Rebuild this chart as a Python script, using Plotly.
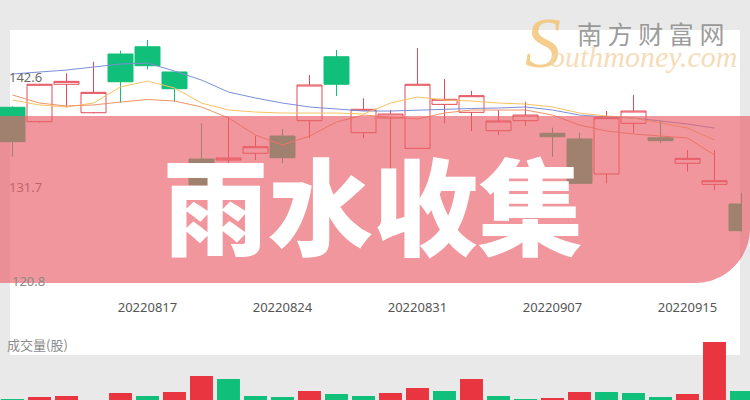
import plotly.graph_objects as go

# ---------------- data ----------------
dates = ["20220810", "20220811", "20220812", "20220815", "20220816", "20220817",
         "20220818", "20220819", "20220822", "20220823", "20220824", "20220825",
         "20220826", "20220829", "20220830", "20220831", "20220901", "20220902",
         "20220905", "20220906", "20220907", "20220908", "20220909", "20220913",
         "20220914", "20220915", "20220916", "20220919"]

open_ = [139.60, 138.17, 141.88, 139.06, 144.88, 145.60, 143.10, 134.47, 134.37, 135.04,
         136.75, 138.27, 144.61, 137.08, 138.54, 135.53, 139.89, 139.10, 137.28, 138.27,
         137.02, 136.46, 132.99, 138.01, 136.58, 134.05, 131.96, 130.01]
high = [139.70, 141.90, 142.97, 144.12, 145.21, 146.27, 143.10, 138.01, 138.64, 136.75,
        137.45, 142.80, 145.28, 140.49, 139.33, 145.47, 142.40, 141.24, 139.33, 140.15,
        137.58, 137.08, 139.23, 140.82, 138.27, 135.37, 135.37, 131.13]
low = [134.70, 138.10, 139.60, 139.00, 140.05, 143.36, 140.15, 130.41, 133.09, 134.37,
       134.05, 136.53, 140.72, 136.53, 130.41, 135.50, 138.01, 137.25, 136.85, 137.74,
       134.70, 132.00, 132.06, 137.02, 136.03, 133.22, 131.40, 127.30]
close = [136.19, 141.88, 142.17, 141.08, 142.13, 143.72, 141.44, 131.90, 134.57, 135.69,
         134.60, 141.81, 141.88, 139.40, 138.93, 141.88, 140.39, 140.75, 138.24, 138.83,
         136.68, 132.06, 138.57, 139.23, 136.29, 134.54, 132.32, 127.37]

ma_short = [140.82, 140.02, 139.73, 139.83, 140.12, 140.37, 140.22, 139.63, 138.54, 136.85,
            135.86, 136.75, 138.14, 138.83, 138.64, 138.44, 139.03, 139.33, 139.33, 139.33,
            138.83, 137.84, 137.25, 136.95, 136.75, 136.56, 134.87, None]
ma_mid = [140.32, 139.83, 139.63, 140.02, 141.61, 142.20, 141.51, 140.02, 139.33, 139.13,
          139.03, 139.03, 139.03, 138.93, 140.02, 140.62, 140.32, 140.22, 140.02, 139.92,
          139.63, 139.03, 138.74, 138.54, 138.04, 137.55, 136.36, None]
ma_long = [142.90, 143.10, 143.29, 143.59, 143.89, 143.99, 143.19, 142.30, 141.11, 140.52,
           140.02, 139.63, 139.43, 139.23, 139.23, 139.33, 139.43, 139.48, 139.53, 139.63,
           139.33, 138.83, 138.64, 138.54, 138.24, 137.94, 137.54, None]

volume = [31, 33, 34, 28, 37, 34, 38, 54, 51, 34, 33, 39, 36, 34, 37, 42, 39, 51, 34, 31,
          32, 38, 38, 37, 33, 36, 88, 39]  # 万股
vol_dir = ["down", "up", "up", "up", "up", "down", "up", "up", "down", "down", "down", "up",
           "down", "down", "up", "up", "down", "up", "down", "down", "up", "up", "down",
           "down", "down", "up", "up", "down"]

y_tick_vals = [142.6, 131.7]
y_low_label = "120.8"
x_tick_dates = ["20220817", "20220824", "20220831", "20220907", "20220915"]

# ---------------- style ----------------
RED = "#e8353f"
GREEN = "#10bf79"
W, H = 750, 400


def px(x):
    return x / W


def py(y):
    return 1 - y / H


fig = go.Figure()

for vals, col in [(ma_long, "#7b8fd6"), (ma_mid, "#f7c262"), (ma_short, "#ef9466")]:
    fig.add_trace(go.Scatter(x=dates, y=vals, mode="lines", line=dict(color=col, width=1),
                             xaxis="x", yaxis="y", hoverinfo="skip", connectgaps=False))

fig.add_trace(go.Candlestick(
    x=dates, open=open_, high=high, low=low, close=close,
    increasing=dict(line=dict(color="#e44a55", width=1), fillcolor="#ffffff"),
    decreasing=dict(line=dict(color=GREEN, width=1), fillcolor=GREEN),
    whiskerwidth=0, xaxis="x", yaxis="y"))

fig.add_trace(go.Bar(
    x=dates, y=volume, width=0.85,
    marker=dict(color=[RED if d == "up" else GREEN for d in vol_dir], line=dict(width=0)),
    xaxis="x2", yaxis="y2"))

axis_font = dict(family="Noto Sans, Open Sans, sans-serif", size=13, color="#6a6a6a")

fig.update_layout(
    width=W, height=H, margin=dict(l=0, r=0, t=0, b=0),
    paper_bgcolor="#e9e9e9", plot_bgcolor="rgba(0,0,0,0)",
    showlegend=False, hovermode=False,
    boxgap=0.074, boxgroupgap=0,
    xaxis=dict(domain=[0, 742 / W], range=[-0.463, 27.0185], type="category",
               tickvals=x_tick_dates, ticktext=x_tick_dates, ticks="", showgrid=False,
               zeroline=False, showline=False, tickfont=dict(axis_font, color="#555555"),
               anchor="y", rangeslider=dict(visible=False), ticklabelstandoff=8),
    yaxis=dict(domain=[py(290), py(30)], range=[121.49, 147.26],
               tickvals=y_tick_vals, ticktext=[f"{v:.1f}" for v in y_tick_vals],
               ticklabelposition="inside", ticks="", showgrid=False, zeroline=False,
               showline=False, tickfont=axis_font, anchor="x", ticklabelstandoff=6),
    xaxis2=dict(domain=[0, 1], range=[-0.463, 27.315], type="category",
                showticklabels=False, ticks="", showgrid=False, zeroline=False,
                showline=False, anchor="y2"),
    yaxis2=dict(domain=[0, 0.2], range=[30, 110], showticklabels=False, ticks="",
                showgrid=False, zeroline=False, showline=False, anchor="x2"),
)

# white panel
fig.add_shape(type="rect", xref="paper", yref="paper", x0=px(10), x1=px(740),
              y0=py(355), y1=py(30), fillcolor="#ffffff", line=dict(width=0), layer="below")

# translucent banner with rounded lower-right corner
r = 55
path = (f"M {px(0)},{py(116)} L {px(750)},{py(116)} L {px(750)},{py(283 - r)} "
        f"C {px(750)},{py(283 - r + 0.552 * r)} {px(750 - r + 0.552 * r)},{py(283)} "
        f"{px(750 - r)},{py(283)} L {px(0)},{py(283)} Z")
fig.add_shape(type="path", xref="paper", yref="paper", path=path,
              fillcolor="rgb(232,97,106)", opacity=0.665, line=dict(width=0), layer="above")

# texts
fig.add_annotation(text="雨水收集", x=px(373), y=py(201), xref="paper", yref="paper",
                   showarrow=False, xanchor="center", yanchor="middle",
                   font=dict(family="Noto Sans CJK SC", size=105, color="#ffffff", weight=900))
fig.add_annotation(text=y_low_label, x=px(10), y=py(281), xref="paper", yref="paper",
                   showarrow=False, xanchor="left", yanchor="middle",
                   font=dict(axis_font, color="#8a8a8a"))
fig.add_annotation(text="成交量(股)", x=px(5), y=py(344), xref="paper", yref="paper",
                   showarrow=False, xanchor="left", yanchor="middle",
                   font=dict(family="Noto Sans CJK SC", size=13, color="#8a8a8a"))

# watermark
fig.add_annotation(text="<i>S</i>", x=px(543), y=py(43), xref="paper", yref="paper",
                   showarrow=False, xanchor="center", yanchor="middle",
                   font=dict(family="Liberation Serif", size=72, color="rgba(243,192,112,0.8)"))
fig.add_annotation(text="南 方 财 富 网", x=px(650), y=py(33), xref="paper", yref="paper",
                   showarrow=False, xanchor="center", yanchor="middle",
                   font=dict(family="Noto Sans CJK SC", size=25, color="rgba(130,130,130,0.8)"))
fig.add_annotation(text="<i>outhmoney.com</i>", x=px(643), y=py(56), xref="paper", yref="paper",
                   showarrow=False, xanchor="center", yanchor="middle",
                   font=dict(family="Liberation Serif", size=30, color="rgba(244,214,170,0.85)"))

fig.write_html("out.html", config={"displayModeBar": False},
               post_script="document.body.style.margin='0px';document.body.style.overflow='hidden';")
